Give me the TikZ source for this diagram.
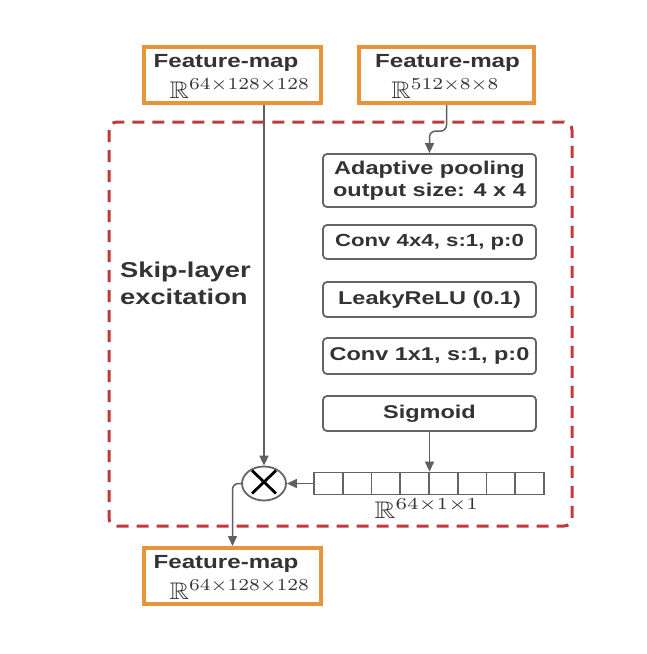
\documentclass[tikz,border=0pt]{standalone}
\usepackage{fontspec}
\usepackage{amssymb}
\usepackage{graphicx}
\usetikzlibrary{arrows.meta,shapes.geometric}
\newfontfamily\boxfont[FakeStretch=1.27]{Liberation Sans Bold}
\definecolor{orng}{RGB}{232,148,60}
\definecolor{dashred}{RGB}{192,57,62}
\definecolor{boxgray}{RGB}{100,100,100}
\definecolor{conngray}{RGB}{95,95,95}
\definecolor{txt}{RGB}{51,51,51}
\begin{document}
\begin{tikzpicture}[x=1pt,y=-1pt,
  fmbox/.style={draw=orng, line width=4pt, fill=white, minimum width=177pt, minimum height=56pt, inner sep=0pt},
  fmtext/.style={anchor=base, inner sep=0pt, text=txt, font=\boxfont\fontsize{19}{22}\selectfont},
  rlabel/.style={anchor=base, inner sep=0pt, text=txt},
  opbox/.style={draw=boxgray, line width=1.8pt, rounded corners=4pt, fill=white, minimum width=213pt, inner sep=0pt, align=center, text=txt, font=\boxfont\fontsize{18.5}{22}\selectfont},
  cell/.style={draw=boxgray, line width=1.8pt, fill=white, minimum width=28.75pt, minimum height=22pt, inner sep=0pt},
  conn/.style={draw=conngray, line width=1.5pt},
  arr/.style={conn, -{Triangle[length=10pt,width=9pt]}}]
\useasboundingbox (0,0) rectangle (646,654);

% dashed frame
\draw[dashred, line width=3pt, dash pattern=on 12pt off 8pt, rounded corners=8pt] (109,122) rectangle (572,526);

% feature-map boxes
\node[fmbox] (tl) at (232.5,75) {};
\node[fmtext] (tlt) at (226,67) {Feature-map};
\node[rlabel] (tlr) at (240,98) {\scalebox{2.7}[2.4]{$\mathbb{R}^{64\times128\times128}$}};

\node[fmbox, minimum width=175pt] (tr) at (446.5,75) {};
\node[fmtext] (trt) at (447.5,67) {Feature-map};
\node[rlabel] (trr) at (445.5,98) {\scalebox{2.7}[2.4]{$\mathbb{R}^{512\times8\times8}$}};

\node[fmbox] (bl) at (232.5,576) {};
\node[fmtext] (blt) at (226,568) {Feature-map};
\node[rlabel] (blr) at (240,599) {\scalebox{2.7}[2.4]{$\mathbb{R}^{64\times128\times128}$}};

% operation boxes
\node[opbox, minimum height=53pt] (ada) at (429.5,180.5) {Adaptive pooling\\output size: 4 x 4};
\node[opbox, minimum height=34pt, font=\boxfont\fontsize{17.5}{21}\selectfont] (c44) at (429.5,242) {Conv 4x4, s:1, p:0};
\node[opbox, minimum height=35pt] (lre) at (429.5,299.5) {LeakyReLU (0.1)};
\node[opbox, minimum height=36pt] (c11) at (429.5,356) {Conv 1x1, s:1, p:0};
\node[opbox, minimum height=35pt] (sig) at (429.5,413.5) {Sigmoid};

% skip-layer label
\node[anchor=base west, inner sep=0pt, align=left, text=txt, font=\boxfont\fontsize{21.5}{27}\selectfont] (skip) at (120,304) {Skip-layer\\excitation};

% vector cells
\foreach \i in {1,...,8} {
  \node[cell] (c\i) at ({314+28.75*(\i-0.5)},483.5) {};
}
\node[rlabel] (vr) at (427,518) {\scalebox{2.9}[2.4]{$\mathbb{R}^{64\times1\times1}$}};

% multiply
\node[draw=boxgray, line width=1.8pt, ellipse, fill=white, minimum width=44pt, minimum height=34pt, inner sep=0pt] (mul) at (264,483.5) {};
\draw[line width=2.8pt, black] ([shift={(-12,-13)}]mul.center) -- ([shift={(12,10)}]mul.center);
\draw[line width=2.8pt, black] ([shift={(12,-13)}]mul.center) -- ([shift={(-12,10)}]mul.center);

% connectors
\path (ada.north) ++(0,-22) coordinate (bend);
\draw[arr, rounded corners=6pt] (tr.south) |- (bend) -- (ada.north);
\draw[arr] (mul.north |- tl.south) -- (mul.north);
\draw[arr] (sig.south) -- (sig.south |- c4.north);
\draw[arr] (c1.west) -- (mul.east);
\draw[arr, rounded corners=6pt] (mul.west) -| (bl.north);
\end{tikzpicture}
\end{document}
